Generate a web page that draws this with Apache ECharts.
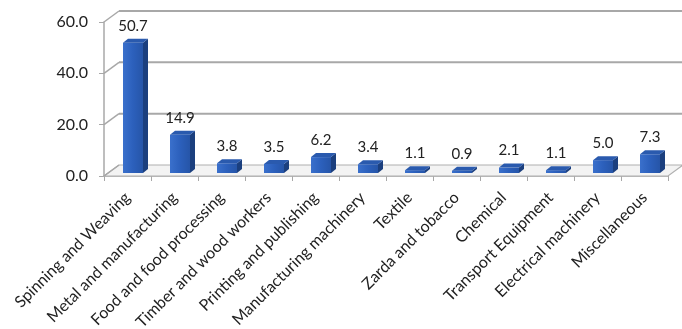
<!DOCTYPE html>
<html><head><meta charset="utf-8">
<script src="https://cdn.jsdelivr.net/npm/echarts@6/dist/echarts.min.js"></script>
<style>html,body{margin:0;padding:0;background:#fff}#c{width:682px;height:329px}</style>
</head><body><div id="c"></div>
<script>
var categories = ["Spinning and Weaving","Metal and manufacturing","Food and food processing","Timber and wood workers","Printing and publishing","Manufacturing machinery","Textile","Zarda and tobacco","Chemical","Transport Equipment","Electrical machinery","Miscellaneous"];
var values = [50.7,14.9,3.8,3.5,6.2,3.4,1.1,0.9,2.1,1.1,5.0,7.3];
var yTicks = [0,20,40,60];

var FONT = 'Lato';
var WDX = 15, WDY = -11;   // wall depth
var chart = echarts.init(document.getElementById('c'));

function wallsRender(params, api) {
  var cs = params.coordSys;
  var x0 = cs.x, x1 = cs.x + cs.width;
  var ch = [];
  var y0 = api.coord([0, 0])[1];
  ch.push({type:'polygon', shape:{points:[[x0,y0],[x1,y0],[x1+WDX,y0+WDY],[x0+WDX,y0+WDY]]},
    style:{fill:'#f3f3f3', stroke:'#b0b0b0', lineWidth:1.2}});
  for (var i = 0; i < yTicks.length; i++) {
    var y = api.coord([0, yTicks[i]])[1];
    if (yTicks[i] > 0) {
      ch.push({type:'line', shape:{x1:x0+WDX, y1:y+WDY, x2:x1+WDX+20, y2:y+WDY}, style:{stroke:'#a8a8a8', lineWidth:2}});
    }
    ch.push({type:'line', shape:{x1:x0, y1:y, x2:x0+WDX, y2:y+WDY}, style:{stroke:'#a8a8a8', lineWidth:1.5}});
  }
  return {type:'group', children: ch};
}

function barRender(params, api) {
  var idx = api.value(0), v = api.value(1);
  var c0 = api.coord([idx, 0]);
  var c1 = api.coord([idx, v]);
  var cx = c0[0];
  var bottom = c0[1] - 3, top = c1[1] - 3;
  var fl = cx - 4.5, fr = cx + 15.5;
  var dx = 5, dy = -4;
  var front = {type:'rect', shape:{x:fl, y:top, width:fr-fl, height:bottom-top},
    style:{fill:new echarts.graphic.LinearGradient(0,0,1,0,[{offset:0,color:'#3a70cc'},{offset:0.5,color:'#2c60bc'},{offset:1,color:'#2655a8'}])}};
  var side = {type:'polygon', shape:{points:[[fr,bottom],[fr,top],[fr+dx,top+dy],[fr+dx,bottom+dy]]}, style:{fill:'#1b3f7e'}};
  var topf = {type:'polygon', shape:{points:[[fl,top],[fr,top],[fr+dx,top+dy],[fl+dx,top+dy]]}, style:{fill:'#2a5aae'}};
  var label = {type:'text', x:(fl+fr)/2, y:top-17, style:{text:v.toFixed(1), font:'15px '+FONT, fill:'#222', textAlign:'center', textVerticalAlign:'middle'}};
  return {type:'group', children:[side, front, topf, label]};
}

chart.setOption({
  animation:false,
  grid:{left:104, right:14, top:22, bottom:153, containLabel:false, outerBoundsMode:'none'},
  xAxis:{type:'category', data:categories, boundaryGap:true,
    axisLine:{lineStyle:{color:'#a8a8a8', width:1.5}},
    axisTick:{show:true, alignWithLabel:false, length:5, lineStyle:{color:'#a8a8a8'}},
    axisLabel:{rotate:45, interval:0, margin:19, fontFamily:FONT, fontSize:16, color:'#222', hideOverlap:false}},
  yAxis:{type:'value', min:0, max:60, interval:20,
    axisLine:{show:true, lineStyle:{color:'#a8a8a8', width:1.5}},
    axisTick:{show:true, length:5, lineStyle:{color:'#a8a8a8'}},
    splitLine:{show:false},
    axisLabel:{formatter:function(v){return v.toFixed(1);}, fontFamily:FONT, fontSize:16, color:'#222', margin:16}},
  series:[
    {type:'custom', renderItem:wallsRender, data:[[0,0]], z:1, silent:true, clip:false},
    {type:'custom', renderItem:barRender, data:values.map(function(v,i){return [i,v];}), z:3, clip:false}
  ]
});
</script></body></html>
